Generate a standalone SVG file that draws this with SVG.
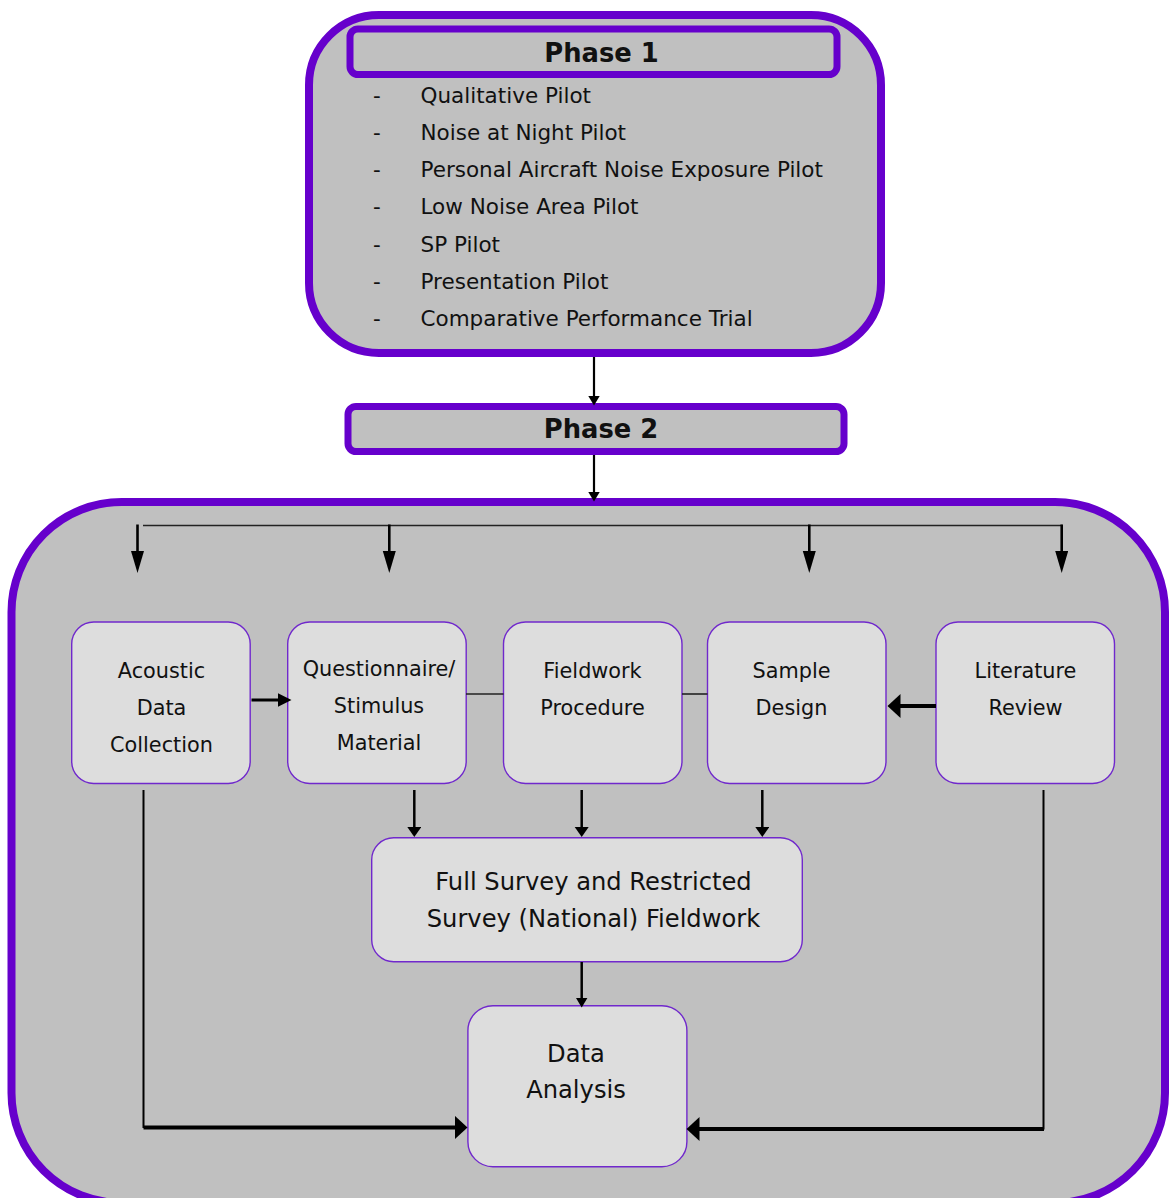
<svg xmlns="http://www.w3.org/2000/svg" width="1170" height="1198" viewBox="0 0 1170 1198">
<style>
.panel{fill:#C0C0C0;stroke:#6600CC;stroke-width:8}
.bar{fill:#C0C0C0;stroke:#6600CC;stroke-width:7}
.node{fill:#DDDDDD;stroke:#7028CC;stroke-width:1.4}
text{font-family:"DejaVu Sans","Verdana",sans-serif;fill:#111}
.title{font-weight:bold;font-size:25.8px;text-anchor:middle}
.item{font-size:21.5px}
.lbl{font-size:20.8px;text-anchor:middle}
.lbl2{font-size:24.2px;text-anchor:middle}
.c{fill:none;stroke:#000}
.thin{stroke:#222;stroke-width:1.6}
</style>
<defs>
<marker id="aSmall" markerUnits="userSpaceOnUse" markerWidth="11" markerHeight="13" refX="1" refY="6" orient="auto"><path d="M0,0 L10,6 L0,12 z" fill="#000"/></marker>
<marker id="aLong" markerUnits="userSpaceOnUse" markerWidth="23" markerHeight="14" refX="1" refY="6.5" orient="auto"><path d="M0,0 L22,6.5 L0,13 z" fill="#000"/></marker>
<marker id="aMid" markerUnits="userSpaceOnUse" markerWidth="15" markerHeight="15" refX="1" refY="7" orient="auto"><path d="M0,0 L14,7 L0,14 z" fill="#000"/></marker>
<marker id="aDown" markerUnits="userSpaceOnUse" markerWidth="11" markerHeight="15" refX="1" refY="7" orient="auto"><path d="M0,0 L10,7 L0,14 z" fill="#000"/></marker>
<marker id="aBig" markerUnits="userSpaceOnUse" markerWidth="14" markerHeight="25" refX="1" refY="12" orient="auto"><path d="M0,0 L13,12 L0,24 z" fill="#000"/></marker>
</defs>

<g id="phase1">
<rect class="panel" x="309" y="15" width="572" height="338" rx="70"/>
<rect class="bar" x="350" y="29" width="487" height="45.5" rx="8"/>
<text class="title" x="601.5" y="62">Phase 1</text>
<g class="item">
<text x="373" y="102.5">-</text><text x="420.5" y="102.5">Qualitative Pilot</text>
<text x="373" y="139.8">-</text><text x="420.5" y="139.8">Noise at Night Pilot</text>
<text x="373" y="177">-</text><text x="420.5" y="177">Personal Aircraft Noise Exposure Pilot</text>
<text x="373" y="214.2">-</text><text x="420.5" y="214.2">Low Noise Area Pilot</text>
<text x="373" y="251.5">-</text><text x="420.5" y="251.5">SP Pilot</text>
<text x="373" y="288.7">-</text><text x="420.5" y="288.7">Presentation Pilot</text>
<text x="373" y="326">-</text><text x="420.5" y="326">Comparative Performance Trial</text>
</g>
</g>

<g id="phase2">
<rect class="bar" x="348" y="406.5" width="496" height="45" rx="8"/>
<text class="title" x="601" y="438">Phase 2</text>
</g>

<g id="phase2-panel">
<rect class="panel" x="11.5" y="502" width="1153.5" height="701" rx="110"/>
</g>

<g id="acoustic">
<rect class="node" x="71.7" y="622" width="178.5" height="161.5" rx="22"/>
<text class="lbl" x="161.5" y="677.5">Acoustic</text>
<text class="lbl" x="161.5" y="715">Data</text>
<text class="lbl" x="161.5" y="752">Collection</text>
</g>
<g id="questionnaire">
<rect class="node" x="287.7" y="622" width="178.5" height="161.5" rx="22"/>
<text class="lbl" x="379" y="675.5">Questionnaire/</text>
<text class="lbl" x="379" y="712.8">Stimulus</text>
<text class="lbl" x="379" y="749.5">Material</text>
</g>
<g id="fieldwork">
<rect class="node" x="503.5" y="622" width="178.5" height="161.5" rx="22"/>
<text class="lbl" x="592.5" y="678.3">Fieldwork</text>
<text class="lbl" x="592.5" y="715">Procedure</text>
</g>
<g id="sample">
<rect class="node" x="707.5" y="622" width="178.5" height="161.5" rx="22"/>
<text class="lbl" x="791.5" y="678.3">Sample</text>
<text class="lbl" x="791.5" y="715">Design</text>
</g>
<g id="literature">
<rect class="node" x="936" y="622" width="178.5" height="161.5" rx="22"/>
<text class="lbl" x="1025.5" y="678.3">Literature</text>
<text class="lbl" x="1025.5" y="715">Review</text>
</g>
<g id="fullsurvey">
<rect class="node" x="371.7" y="837.7" width="430.6" height="124" rx="22"/>
<text class="lbl2" x="593.5" y="890">Full Survey and Restricted</text>
<text class="lbl2" x="593.5" y="926.7">Survey (National) Fieldwork</text>
</g>
<g id="analysis">
<rect class="node" x="467.9" y="1005.7" width="219" height="161" rx="25"/>
<text class="lbl2" x="576" y="1061.7">Data</text>
<text class="lbl2" x="576" y="1098.3">Analysis</text>
</g>

<g id="connectors">
<line class="c" x1="594" y1="357" x2="594" y2="396.5" stroke-width="2.2" marker-end="url(#aSmall)"/>
<line class="c" x1="594" y1="455" x2="594" y2="492.5" stroke-width="2.2" marker-end="url(#aSmall)"/>
<line class="c thin" x1="143" y1="525.5" x2="1062.5" y2="525.5" stroke-width="2.2"/>
<line class="c" x1="137.5" y1="524.5" x2="137.5" y2="552" stroke-width="2.6" marker-end="url(#aLong)"/>
<line class="c" x1="389.3" y1="524.5" x2="389.3" y2="552" stroke-width="2.6" marker-end="url(#aLong)"/>
<line class="c" x1="809.3" y1="524.5" x2="809.3" y2="552" stroke-width="2.6" marker-end="url(#aLong)"/>
<line class="c" x1="1061.7" y1="524.5" x2="1061.7" y2="552" stroke-width="2.6" marker-end="url(#aLong)"/>
<line class="c" x1="251.5" y1="700" x2="278.5" y2="700" stroke-width="3" marker-end="url(#aMid)"/>
<line class="c thin" x1="466" y1="694" x2="503.5" y2="694"/>
<line class="c thin" x1="682" y1="694" x2="707.5" y2="694"/>
<line class="c" x1="936" y1="706" x2="899.5" y2="706" stroke-width="4" marker-end="url(#aBig)"/>
<line class="c" x1="414.3" y1="790" x2="414.3" y2="828" stroke-width="2.5" marker-end="url(#aDown)"/>
<line class="c" x1="581.7" y1="790" x2="581.7" y2="828" stroke-width="2.5" marker-end="url(#aDown)"/>
<line class="c" x1="762.3" y1="790" x2="762.3" y2="828" stroke-width="2.5" marker-end="url(#aDown)"/>
<line class="c" x1="581.7" y1="962" x2="581.7" y2="998.5" stroke-width="2.5" marker-end="url(#aSmall)"/>
<line class="c" x1="143.5" y1="790" x2="143.5" y2="1128" stroke-width="2"/>
<line class="c" x1="143.5" y1="1127.5" x2="455.5" y2="1127.5" stroke-width="4" marker-end="url(#aBig)"/>
<line class="c" x1="1043.5" y1="790" x2="1043.5" y2="1129.5" stroke-width="2"/>
<line class="c" x1="1044" y1="1129" x2="698.5" y2="1129" stroke-width="4" marker-end="url(#aBig)"/>
</g>
</svg>
